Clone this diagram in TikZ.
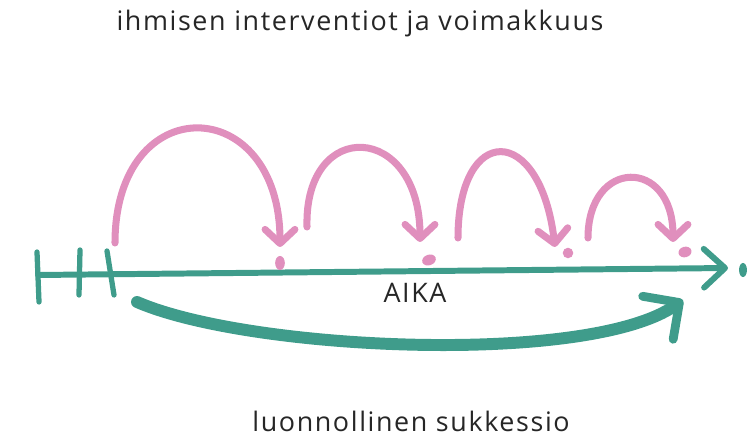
\documentclass[tikz,border=0pt]{standalone}
\usepackage{fontspec}
\setmainfont{Open Sans}[LetterSpace=6]
\usetikzlibrary{arrows.meta,shapes.geometric}

\definecolor{verde}{HTML}{3F9C8B}
\definecolor{rosa}{HTML}{E08FBD}
\definecolor{tinta}{HTML}{262626}

\tikzstyle{rotulo}= [text=tinta,inner sep=0pt,anchor=base,font=\fontsize{15.3}{17}\selectfont]
\tikzstyle{salto}= [rosa,line width=4pt,line cap=round,-{Straight Barb[length=8pt,width=17pt,round]}]
\tikzstyle{gota}= [ellipse,fill=rosa,inner sep=0pt,minimum width=6pt,minimum height=7pt]
\tikzstyle{eje}= [verde,line width=3.4pt,line cap=round]
\tikzstyle{marca}= [verde,line width=3pt,line cap=round]

\begin{document}
\begin{tikzpicture}[x=0.02cm,y=0.02cm]
		\useasboundingbox (0,0) rectangle (748,446);

		\node (titulo) at (360,415) [rotulo] {ihmisen interventiot ja voimakkuus};
		\node (aika) at (415,143) [rotulo] {AIKA};
		\node (sukkessio) at (411,14) [rotulo] {luonnollinen sukkessio};

		% aikajana
		\coordinate (a0) at (38,171);
		\coordinate (a1) at (728,178);
		\draw[eje,-{Straight Barb[length=12pt,width=22pt,round]}] (a0) -- (a1);
		\node (loppu) at (743,176) [gota,fill=verde,minimum width=4.5pt,minimum height=8pt] {};

		\coordinate (m1a) at (37,194);
		\coordinate (m1b) at (39,144);
		\coordinate (m2a) at (80,196);
		\coordinate (m2b) at (79,151);
		\coordinate (m3a) at (107,195);
		\coordinate (m3b) at (114,151);
		\draw[marca] (m1a) -- (m1b);
		\draw[marca] (m2a) -- (m2b);
		\draw[marca] (m3a) -- (m3b);

		% luonnollinen
		\coordinate (g0) at (137,144);
		\coordinate (g1) at (683,146);
		\draw[verde,line width=6.8pt,line cap=round,-{Straight Barb[length=15pt,width=30pt,line width=5pt,round]}]
			(g0) .. controls +(113,-49) and +(-93,-66) .. (g1);

		% interventiot
		\coordinate (s1) at (115,203);
		\coordinate (e1) at (280,199);
		\coordinate (s2) at (307,219);
		\coordinate (e2) at (420,204);
		\coordinate (s3) at (458,208);
		\coordinate (e3) at (555,199);
		\coordinate (s4) at (588,208);
		\coordinate (e4) at (673,204);

		\draw[salto] (s1) .. controls +(0,155) and +(0,155) .. (e1);
		\draw[salto] (s2) .. controls +(-3,110) and +(0,120) .. (e2);
		\draw[salto] (s3) .. controls +(0,115) and +(-15,125) .. (e3);
		\draw[salto] (s4) .. controls +(0,80) and +(0,85) .. (e4);

		\node (p1) at (280,183) [gota,minimum width=5.5pt,minimum height=8pt] {};
		\node (p2) at (429,186) [gota,minimum width=8pt,minimum height=6pt,rotate=20] {};
		\node (p3) at (568,193) [gota,minimum width=6pt,minimum height=6pt] {};
		\node (p4) at (685,194) [gota,minimum width=7.5pt,minimum height=6pt,rotate=15] {};

\end{tikzpicture}
\end{document}
